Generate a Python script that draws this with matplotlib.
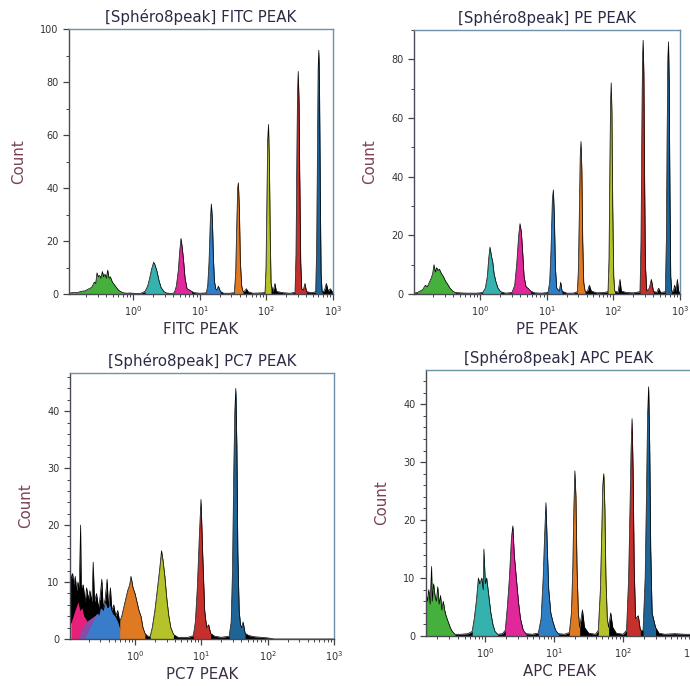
import numpy as np
import matplotlib
matplotlib.use('Agg')
import matplotlib.pyplot as plt
from matplotlib.ticker import FixedLocator, LogLocator, MultipleLocator, NullFormatter

plt.rcParams['font.family'] = ['DejaVu Sans']

# gate colours (same order in every panel)
gate_colors = ['#45b03c', '#35b2ad', '#e0289a', '#2f7fc6', '#e07a22', '#b6c229', '#c5302c', '#1f6496']

# ---- FITC ----  (positions in decades, counts per bin)
fitc_log = [-0.96, -0.90, -0.84, -0.78, -0.72, -0.66, -0.62, -0.58, -0.56, -0.54, -0.52, -0.50, -0.48,
            -0.46, -0.44, -0.42, -0.40, -0.38, -0.36, -0.34, -0.31, -0.28, -0.25, -0.22, -0.19, -0.15,
            -0.10, -0.05, 0.05, 0.12, 0.18, 0.22, 0.25, 0.28, 0.31, 0.33, 0.36, 0.39, 0.42, 0.46, 0.50,
            0.58, 0.62, 0.65, 0.68, 0.70, 0.72, 0.74, 0.76, 0.78, 0.81, 0.85, 0.88, 0.92, 1.00, 1.08,
            1.10, 1.12, 1.14, 1.16, 1.175, 1.19, 1.205, 1.22, 1.24, 1.26, 1.28, 1.31, 1.36, 1.45,
            1.52, 1.54, 1.555, 1.57, 1.58, 1.595, 1.61, 1.63, 1.65, 1.67, 1.70, 1.73, 1.80, 1.90,
            1.98, 1.995, 2.008, 2.02, 2.032, 2.045, 2.058, 2.07, 2.10, 2.13, 2.15, 2.25, 2.35,
            2.43, 2.445, 2.457, 2.467, 2.478, 2.49, 2.50, 2.515, 2.53, 2.555, 2.58, 2.60, 2.66,
            2.74, 2.755, 2.767, 2.777, 2.787, 2.797, 2.808, 2.82, 2.835, 2.86, 2.88, 2.90, 2.93, 2.96, 3.00]
fitc_count = [0.3, 0.6, 0.5, 1.0, 1.2, 2.0, 2.5, 4.5, 4.0, 8.0, 6.5, 7.0, 6.0,
              8.5, 6.5, 7.5, 6.0, 9.0, 6.0, 6.5, 4.5, 3.5, 2.5, 1.5, 1.0, 0.5,
              0.3, 0.4, 0.2, 0.3, 1.0, 3.0, 6.0, 9.5, 12.0, 11.0, 8.5, 5.0, 2.5, 1.0, 0.4,
              0.2, 0.5, 3.0, 9.0, 16.0, 21.0, 17.0, 12.0, 6.0, 2.0, 1.5, 1.0, 0.5, 0.3, 0.4,
              0.5, 3.0, 12.0, 28.0, 34.0, 28.0, 14.0, 5.0, 2.0, 1.5, 3.0, 1.0, 0.3, 0.3,
              0.5, 8.0, 25.0, 40.0, 42.0, 32.0, 12.0, 3.0, 1.0, 1.0, 2.0, 0.8, 0.3, 0.4,
              0.5, 10.0, 35.0, 58.0, 64.0, 50.0, 22.0, 4.0, 0.8, 4.0, 1.0, 0.5, 0.3,
              0.6, 15.0, 50.0, 75.0, 84.0, 72.0, 45.0, 12.0, 2.0, 1.5, 4.0, 1.0, 0.5,
              0.8, 18.0, 55.0, 85.0, 92.0, 78.0, 40.0, 8.0, 1.0, 1.0, 2.0, 4.0, 1.0, 2.0, 0.5]
fitc_gates = [(-0.96, -0.10), (0.15, 0.50), (0.60, 0.90), (1.10, 1.33),
              (1.52, 1.65), (1.98, 2.07), (2.43, 2.60), (2.74, 2.835)]

# ---- PE ----
pe_log = [-1.00, -0.94, -0.90, -0.86, -0.82, -0.79, -0.76, -0.73, -0.71, -0.69, -0.67, -0.65, -0.63,
          -0.61, -0.58, -0.55, -0.52, -0.49, -0.45, -0.41, -0.37, -0.30, -0.20, -0.05, 0.04, 0.08,
          0.11, 0.13, 0.15, 0.17, 0.19, 0.21, 0.24, 0.27, 0.31, 0.38, 0.48, 0.52, 0.55, 0.58, 0.60,
          0.62, 0.64, 0.66, 0.69, 0.72, 0.76, 0.82, 0.92,
          1.02, 1.045, 1.065, 1.085, 1.10, 1.115, 1.13, 1.15, 1.19, 1.21, 1.23, 1.30, 1.40,
          1.46, 1.475, 1.49, 1.503, 1.515, 1.527, 1.54, 1.555, 1.575, 1.61, 1.64, 1.67, 1.75, 1.85,
          1.92, 1.935, 1.947, 1.958, 1.968, 1.978, 1.99, 2.005, 2.02, 2.07, 2.10, 2.12, 2.20, 2.30,
          2.40, 2.415, 2.427, 2.437, 2.447, 2.457, 2.468, 2.48, 2.50, 2.54, 2.57, 2.60, 2.65, 2.68, 2.71,
          2.78, 2.795, 2.807, 2.817, 2.827, 2.837, 2.848, 2.86, 2.875, 2.90, 2.92, 2.94, 2.96, 2.98, 3.00]
pe_count = [0.3, 0.5, 1.0, 1.5, 3.0, 2.5, 4.0, 5.5, 7.0, 10.0, 7.5, 9.0, 8.0,
            8.5, 7.0, 6.0, 4.5, 3.5, 2.0, 1.0, 0.5, 0.4, 0.3, 0.3, 0.5, 2.0,
            6.0, 12.0, 16.0, 13.0, 11.0, 7.0, 4.0, 2.0, 0.8, 0.3, 0.5, 3.0, 10.0, 20.0, 24.0,
            21.0, 14.0, 6.0, 2.5, 2.0, 1.0, 0.4, 0.3,
            0.5, 4.0, 15.0, 32.0, 35.5, 26.0, 9.0, 2.0, 1.0, 4.0, 1.0, 0.3, 0.3,
            0.8, 8.0, 28.0, 47.0, 52.0, 42.0, 18.0, 4.0, 1.0, 0.8, 3.0, 1.0, 0.4, 0.5,
            0.8, 12.0, 42.0, 65.0, 72.0, 62.0, 30.0, 6.0, 1.0, 0.6, 5.0, 1.0, 0.5, 0.4,
            0.8, 18.0, 55.0, 80.0, 86.5, 75.0, 40.0, 10.0, 1.0, 2.0, 5.0, 1.0, 0.5, 2.0, 0.5,
            0.8, 18.0, 55.0, 80.0, 86.0, 72.0, 35.0, 6.0, 1.0, 1.0, 3.0, 1.0, 5.0, 1.0, 0.3]
pe_gates = [(-0.98, -0.35), (0.04, 0.31), (0.48, 0.76), (1.02, 1.24),
            (1.46, 1.575), (1.92, 2.02), (2.40, 2.60), (2.78, 2.875)]

# ---- PC7 ----
pc7_log = [-0.98, -0.96, -0.94, -0.92, -0.90, -0.88, -0.86, -0.84, -0.82, -0.81, -0.78, -0.75, -0.73,
           -0.70, -0.68, -0.65, -0.63, -0.61, -0.58, -0.55, -0.53, -0.50, -0.48, -0.45, -0.42, -0.40,
           -0.37, -0.35, -0.32, -0.29, -0.26, -0.23, -0.20, -0.17, -0.14, -0.11, -0.08, -0.06, -0.03,
           0.00, 0.03, 0.06, 0.09, 0.12, 0.15, 0.19, 0.23, 0.26, 0.30, 0.34, 0.37, 0.40, 0.42, 0.45,
           0.48, 0.51, 0.54, 0.58, 0.65, 0.80, 0.88, 0.91, 0.94, 0.97, 0.995, 1.02, 1.05, 1.08, 1.11,
           1.14, 1.20, 1.30, 1.42, 1.45, 1.47, 1.49, 1.505, 1.52, 1.535, 1.55, 1.57, 1.59, 1.61, 1.63,
           1.66, 1.72, 1.80, 1.90, 2.00, 2.10, 3.00]
pc7_count = [12.5, 10.5, 11.5, 9.5, 11.0, 8.5, 10.0, 9.0, 20.0, 9.0, 9.5, 6.5, 9.0,
             7.0, 8.5, 6.5, 13.5, 6.5, 8.0, 5.5, 7.0, 10.5, 5.5, 7.0, 10.5, 5.5,
             9.0, 5.0, 6.0, 4.0, 5.0, 3.0, 4.0, 5.5, 7.0, 8.5, 9.5, 11.0, 9.0,
             8.0, 6.5, 5.0, 4.0, 2.0, 1.0, 0.5, 0.5, 2.0, 5.0, 9.0, 12.0, 15.5, 14.0, 11.0,
             7.0, 4.0, 2.0, 0.8, 0.3, 0.3, 0.6, 3.0, 9.0, 18.0, 24.5, 15.0, 5.0, 2.0, 2.5,
             1.0, 0.5, 0.3, 0.5, 3.0, 12.0, 30.0, 40.0, 44.0, 34.0, 15.0, 5.0, 2.5, 2.0, 3.0,
             1.0, 0.6, 0.4, 0.3, 0.2, 0.0, 0.0]
pc7_gates = [None, None, None, None,
             (-0.23, 0.15), (0.23, 0.58), (0.88, 1.14), (1.42, 1.66)]

# overlapping low populations under the PC7 debris
pc7_low_colors = ['#3cb54a', '#3cc3cc', '#e8207a', '#8a4aa8', '#3a7ccc']
pc7_low_log = [
    [-0.98, -0.94, -0.90, -0.86, -0.82, -0.78],
    [-0.98, -0.94, -0.90, -0.86, -0.82, -0.78, -0.74],
    [-0.96, -0.92, -0.89, -0.86, -0.83, -0.80, -0.77, -0.74, -0.70, -0.66, -0.62],
    [-0.86, -0.80, -0.74, -0.68, -0.62, -0.56, -0.50, -0.44, -0.38, -0.32],
    [-0.76, -0.70, -0.64, -0.58, -0.55, -0.52, -0.48, -0.45, -0.42, -0.38, -0.34, -0.30, -0.26, -0.22, -0.18],
]
pc7_low_count = [
    [2.0, 1.8, 1.2, 0.8, 0.4, 0.0],
    [3.0, 2.6, 2.2, 1.6, 1.2, 0.6, 0.0],
    [3.0, 4.5, 5.5, 6.5, 5.0, 5.5, 4.0, 3.5, 2.5, 1.5, 0.0],
    [0.0, 2.0, 3.0, 3.5, 4.0, 4.5, 3.5, 2.5, 1.5, 0.0],
    [0.0, 1.5, 3.0, 4.5, 4.0, 5.5, 5.0, 6.5, 5.5, 6.0, 4.5, 4.0, 3.0, 1.5, 0.0],
]

# ---- APC ----
apc_log = [-0.86, -0.84, -0.82, -0.80, -0.78, -0.77, -0.75, -0.73, -0.71, -0.69, -0.67, -0.65, -0.63,
           -0.61, -0.59, -0.57, -0.54, -0.51, -0.48, -0.44, -0.35, -0.25, -0.19, -0.16, -0.13, -0.10,
           -0.08, -0.05, -0.03, -0.02, 0.00, 0.02, 0.04, 0.06, 0.08, 0.11, 0.14, 0.18, 0.25, 0.29,
           0.32, 0.35, 0.38, 0.40, 0.42, 0.45, 0.48, 0.51, 0.55, 0.59, 0.68, 0.77, 0.81, 0.84, 0.86,
           0.88, 0.90, 0.92, 0.95, 0.98, 1.02, 1.06, 1.15,
           1.22, 1.25, 1.27, 1.285, 1.30, 1.315, 1.33, 1.35, 1.37, 1.41, 1.44, 1.50, 1.60,
           1.64, 1.67, 1.69, 1.705, 1.72, 1.735, 1.75, 1.77, 1.79, 1.82, 1.85, 1.90, 2.00,
           2.05, 2.08, 2.10, 2.115, 2.13, 2.145, 2.16, 2.18, 2.22, 2.25,
           2.29, 2.32, 2.34, 2.355, 2.37, 2.385, 2.40, 2.42, 2.44, 2.47, 2.52, 2.60, 2.75, 2.90, 3.00]
apc_count = [7.5, 6.0, 8.0, 5.5, 12.0, 6.0, 9.0, 7.0, 6.0, 8.5, 5.5, 7.0, 4.5,
             6.0, 4.5, 3.5, 2.5, 1.5, 0.8, 0.3, 0.3, 0.4, 0.8, 3.0, 6.0, 10.0,
             9.0, 10.0, 8.0, 15.0, 9.0, 10.0, 8.0, 6.0, 4.0, 2.0, 0.8, 0.3, 0.4, 1.0,
             5.0, 10.0, 17.0, 19.0, 14.0, 10.0, 6.0, 3.0, 1.0, 0.4, 0.3, 0.5, 3.0, 10.0, 17.0,
             23.0, 15.0, 8.0, 4.0, 2.5, 1.0, 0.4, 0.3,
             0.6, 4.0, 12.0, 22.0, 28.5, 24.0, 12.0, 4.0, 1.5, 4.5, 1.5, 0.5, 0.3,
             1.0, 8.0, 18.0, 26.0, 28.0, 22.0, 10.0, 3.0, 1.5, 4.0, 1.5, 0.5, 0.3,
             1.0, 10.0, 22.0, 32.0, 37.5, 28.0, 12.0, 3.0, 3.5, 1.0,
             1.0, 10.0, 25.0, 38.0, 43.0, 33.0, 15.0, 4.0, 3.0, 1.5, 0.5, 0.3, 0.4, 0.3, 0.3]
apc_gates = [(-0.86, -0.44), (-0.19, 0.18), (0.29, 0.59), (0.77, 1.06),
             (1.22, 1.37), (1.64, 1.79), (2.05, 2.25), (2.29, 2.47)]

panels = [
    # name, log, count, gates, axes rect, left limit (decades), ymax, y major, y minor
    ('FITC PEAK', fitc_log, fitc_count, fitc_gates, [0.100, 0.5714, 0.3826, 0.3863], -0.96, 100, 20, 10),
    ('PE PEAK', pe_log, pe_count, pe_gates, [0.600, 0.5714, 0.3855, 0.3848], -0.99, 90, 20, 10),
    ('PC7 PEAK', pc7_log, pc7_count, pc7_gates, [0.1014, 0.0685, 0.3826, 0.3878], -0.98, 46.7, 10, 2),
    ('APC PEAK', apc_log, apc_count, apc_gates, [0.6174, 0.0729, 0.3855, 0.3878], -0.86, 45.9, 10, 2),
]

fig = plt.figure(figsize=(6.9, 6.86), dpi=100)

for name, lg, cnt, gates, rect, xmin_log, ymax, ymaj, ymin in panels:
    ax = fig.add_axes(rect)
    lg = np.array(lg)
    cnt = np.array(cnt)
    x = 10 ** lg

    # ungated histogram underneath (black fill + outline), gated populations on top
    ax.fill_between(x, cnt, color='black', lw=0)
    ax.plot(x, cnt, color='black', lw=0.5)
    if name == 'PC7 PEAK':
        for c, ll, cc in zip(pc7_low_colors, pc7_low_log, pc7_low_count):
            ax.fill_between(10 ** np.array(ll), cc, color=c, lw=0)
    for g, c in zip(gates, gate_colors):
        if g is None:
            continue
        m = (lg >= g[0]) & (lg <= g[1])
        ax.fill_between(x, cnt, where=m, color=c, lw=0)

    ax.set_xscale('log')
    ax.set_xlim(10 ** xmin_log, 1000)
    ax.set_ylim(0, ymax)
    ax.xaxis.set_major_locator(FixedLocator([1, 10, 100, 1000]))
    ax.set_xticklabels([r'$10^{0}$', r'$10^{1}$', r'$10^{2}$', r'$10^{3}$'])
    ax.xaxis.set_minor_locator(LogLocator(base=10, subs=np.arange(2, 10)))
    ax.xaxis.set_minor_formatter(NullFormatter())
    ax.yaxis.set_major_locator(MultipleLocator(ymaj))
    ax.yaxis.set_minor_locator(MultipleLocator(ymin))

    ax.tick_params(which='major', length=4, width=0.9, color='#444444', labelsize=7, labelcolor='#333333')
    ax.tick_params(which='minor', length=2, width=0.7, color='#444444')
    for s in ['top', 'right']:
        ax.spines[s].set_color('#6d93a8')
        ax.spines[s].set_linewidth(1.0)
    for s in ['left', 'bottom']:
        ax.spines[s].set_color('#4a4a55')
        ax.spines[s].set_linewidth(1.0)

    ax.set_title('[Sphéro8peak] ' + name, fontsize=10.8, color='#2b2b45', pad=5)
    ax.set_xlabel(name, fontsize=10.8, color='#3a2f45', labelpad=3)
    ax.set_ylabel('Count', fontsize=10.8, color='#7b3f55', labelpad=10)

fig.savefig('out.png', dpi=100, facecolor='white')
